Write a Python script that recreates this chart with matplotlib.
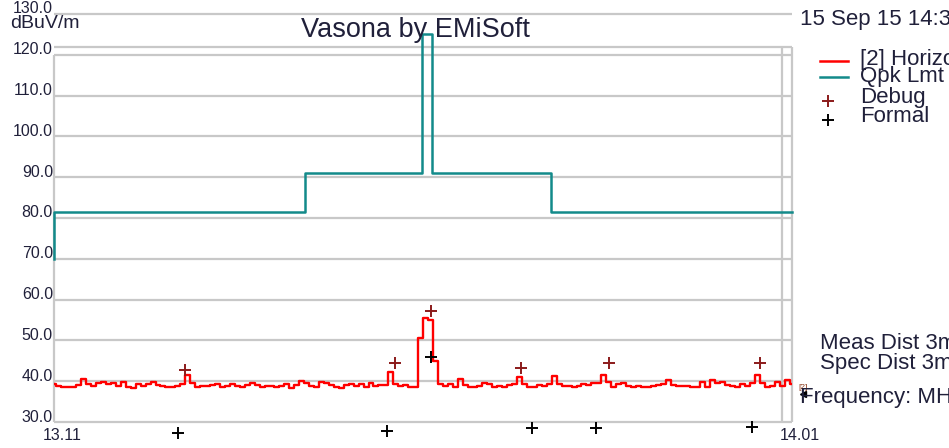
import numpy as np
import matplotlib.pyplot as plt
from matplotlib.lines import Line2D
from matplotlib.transforms import ScaledTranslation

plt.rcParams['font.family'] = ['Liberation Sans', 'DejaVu Sans']

W, H = 949, 448

# sweep range (MHz)
f_start, f_stop = 13.11, 14.01

# [2] Horizontal trace, dBuV/m
trace_dbuv = [
    39.2, 38.8, 38.7, 38.5, 38.6, 39.0, 40.6, 39.3, 38.8, 39.5,
    39.8, 39.3, 39.6, 38.9, 39.7, 38.6, 38.4, 39.2, 38.9, 39.4,
    39.8, 39.0, 38.8, 38.6, 38.7, 38.9, 39.3, 41.6, 39.6, 38.7,
    38.9, 38.8, 39.0, 39.3, 38.6, 38.9, 39.2, 38.8, 38.5, 39.0,
    39.6, 39.1, 38.7, 38.9, 38.8, 38.6, 38.9, 39.4, 38.4, 39.1,
    40.1, 39.5, 38.8, 38.6, 39.7, 39.5, 39.0, 38.6, 38.3, 39.0,
    39.4, 38.8, 39.2, 38.7, 39.5, 38.9, 39.1, 39.0, 42.2, 39.4,
    38.8, 39.0, 38.6, 38.7, 50.6, 55.4, 55.0, 45.0, 39.3, 38.8,
    39.4, 38.7, 40.6, 39.0, 38.6, 38.5, 38.9, 39.6, 39.2, 38.7,
    38.8, 38.6, 39.0, 39.3, 41.0, 39.4, 38.5, 38.7, 39.1, 38.8,
    39.4, 41.2, 39.3, 38.9, 38.8, 38.7, 38.9, 39.2, 39.0, 39.5,
    39.6, 41.4, 39.8, 38.7, 39.2, 39.5, 38.9, 38.5, 38.8, 38.7,
    38.6, 38.9, 39.0, 39.3, 40.3, 39.1, 38.9, 38.8, 38.9, 38.5,
    38.7, 39.8, 38.6, 40.3, 39.5, 39.7, 39.1, 38.9, 38.6, 39.3,
    38.8, 39.5, 41.5, 39.6, 38.7, 38.9, 39.7, 38.8, 40.2, 39.4,
]
freq = np.linspace(f_start, f_stop, len(trace_dbuv))

# Qpk limit line corners
lmt_freq = [13.11, 13.11, 13.416, 13.416, 13.559, 13.559, 13.571, 13.571, 13.716, 13.716, 14.01]
lmt_level = [70, 81.5, 81.5, 91, 91, 125, 125, 91, 91, 81.5, 81.5]

# markers
debug_freq = [13.270, 13.526, 13.570, 13.680, 13.787, 13.971]
debug_level = [42.7, 44.4, 57.1, 43.2, 44.4, 44.4]
formal_freq = [13.261, 13.516, 13.570, 13.693, 13.771, 13.961]
formal_level = [27.3, 27.8, 45.9, 28.5, 28.5, 28.8]

y_ticks = [30, 40, 50, 60, 70, 80, 90, 100, 110, 120, 130]
x_tick_labels = ["13.11", "14.01"]

text_col = '#20203a'
grid_col = '#c8c8c8'
red = '#ff0000'
teal = '#138a8a'
debug_col = '#8b1a1a'


def px(x, y):
    return x / W, 1 - y / H


fig = plt.figure(figsize=(W / 100, H / 100), dpi=100)
ax = fig.add_axes([54 / W, 1 - 422 / H, 738 / W, 408 / H])
ax.set_xlim(f_start, f_stop)
ax.set_ylim(30, 130)
ax.axis('off')

# grid and frame
ax.hlines(y_ticks, f_start, f_stop, color=grid_col, lw=1.6, clip_on=False, zorder=1)
ax.hlines(121.9, f_start, f_stop, color=grid_col, lw=1.6, clip_on=False, zorder=1)
ax.vlines(f_start, 30, 120, color=grid_col, lw=1.6, clip_on=False, zorder=1)
ax.vlines([13.998, f_stop], 30, 121.9, color=grid_col, lw=1.6, clip_on=False, zorder=1)

# tick labels
up = ScaledTranslation(-1 / 100, 5 / 100, fig.dpi_scale_trans)
for v in y_ticks:
    ax.text(f_start, v, f"{v:.1f}", ha='right', va='center', fontsize=11.5,
            color=text_col, transform=ax.transData + up, clip_on=False)
down = ScaledTranslation(8 / 100, -13 / 100, fig.dpi_scale_trans)
for f, lab in zip([f_start, f_stop], x_tick_labels):
    ax.text(f, 30, lab, ha='center', va='center', fontsize=11.5,
            color=text_col, transform=ax.transData + down, clip_on=False)

# data
ax.plot(lmt_freq, lmt_level, color=teal, lw=1.8, clip_on=False, zorder=3)
ax.plot(freq, trace_dbuv, color=red, lw=1.7, drawstyle='steps-mid', zorder=4)
ax.plot(debug_freq, debug_level, '+', color=debug_col, ms=9, mew=1.4, clip_on=False, zorder=5)
ax.plot(formal_freq, formal_level, '+', color='black', ms=9, mew=1.4, clip_on=False, zorder=5)

# titles and annotations
fig.text(*px(415, 30), "Vasona by EMiSoft", ha='center', va='center', fontsize=19.5, color=text_col)
fig.text(*px(10, 23), "dBuV/m", ha='left', va='center', fontsize=14, color=text_col)
fig.text(*px(800, 20), "15 Sep 15 14:35", ha='left', va='center', fontsize=16, color=text_col)

# legend
leg_items = [("[2] Horizontal", 60, red, None),
             ("Qpk Lmt", 76, teal, None),
             ("Debug", 98, debug_col, '+'),
             ("Formal", 117, 'black', '+')]
for label, y, col, mk in leg_items:
    if mk is None:
        x0, y0 = px(820, y + 1)
        x1, _ = px(848, y + 1)
        fig.add_artist(Line2D([x0, x1], [y0, y0], color=col, lw=1.8))
    else:
        mx, my = px(828, y + 3)
        fig.add_artist(Line2D([mx], [my], marker='+', color=col, ms=9, mew=1.4, linestyle='none'))
    fig.text(*px(860, y), label, ha='left', va='center', fontsize=16, color=text_col)

fig.text(*px(820, 343), "Meas Dist 3m", ha='left', va='center', fontsize=16, color=text_col)
fig.text(*px(820, 363), "Spec Dist 3m", ha='left', va='center', fontsize=16, color=text_col)
fig.text(*px(798, 387), "[2]", ha='left', va='center', fontsize=6, color='#8b3a1a')
mx, my = px(803, 394)
fig.add_artist(Line2D([mx], [my], marker='<', color='black', ms=5, linestyle='none'))
fig.text(*px(800, 398), "Frequency: MHz", ha='left', va='center', fontsize=16, color=text_col)

fig.savefig('out.png', dpi=100, facecolor='white')
